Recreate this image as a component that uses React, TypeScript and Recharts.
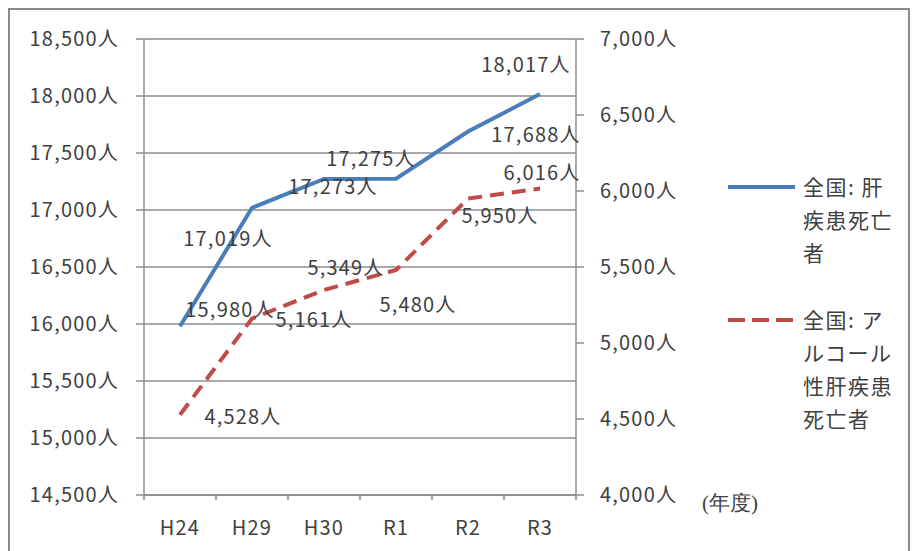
import { LineChart, Line, XAxis, YAxis, CartesianGrid, LabelList } from 'recharts';

const years = ['H24', 'H29', 'H30', 'R1', 'R2', 'R3'];
const liverDeaths = [15980, 17019, 17273, 17275, 17688, 18017];
const alcoholDeaths = [4528, 5161, 5349, 5480, 5950, 6016];
const leftTicks = [14500, 15000, 15500, 16000, 16500, 17000, 17500, 18000, 18500];
const rightTicks = [4000, 4500, 5000, 5500, 6000, 6500, 7000];

const BLUE = '#4A7EBB';
const RED = '#BE4B48';
const TEXT = '#404040';
const GRID = '#8c8c8c';
const FONT = '"Noto Sans CJK JP", "Noto Sans", sans-serif';
const FS = 20;
const LS = 1.2;

// label offsets from each point, px
const blueShift = [[50, -18], [-24, 30], [9, 7], [-25, -21], [68, 2], [-14, -31]];
const redShift = [[63, 1], [62, 0], [22, -23], [22, 33], [32, 16], [2, -17]];

const data = years.map((y, i) => ({ year: y, liver: liverDeaths[i], alcohol: alcoholDeaths[i] }));

const fmt = (v: number) => v.toLocaleString('en-US') + '人';
const HALF_BAND = 36;

const makeLabel = (shift: number[][]) => (props: any) => {
  const { x, y, index, value } = props;
  const [dx, dy] = shift[index] || [0, 0];
  return (
    <text x={x + dx} y={y + dy} textAnchor="middle" dominantBaseline="central"
      fontSize={FS} letterSpacing={LS} fill={TEXT} fontFamily={FONT}>
      {fmt(value)}
    </text>
  );
};

const XTick = (props: any) => {
  const { x, y, payload, index, visibleTicksCount } = props;
  return (
    <g>
      <line x1={x - HALF_BAND} x2={x - HALF_BAND} y1={y} y2={y + 5} stroke={GRID} strokeWidth={1.5} />
      {index === visibleTicksCount - 1 && (
        <line x1={x + HALF_BAND} x2={x + HALF_BAND} y1={y} y2={y + 5} stroke={GRID} strokeWidth={1.5} />
      )}
      <text x={x} y={y + 31} textAnchor="middle" dominantBaseline="central" fontSize={FS} letterSpacing={LS}
        fill={TEXT} fontFamily={FONT}>
        {payload.value}
      </text>
    </g>
  );
};

const legendText: React.CSSProperties = {
  position: 'absolute', left: 803, fontSize: 21, lineHeight: '33px', color: TEXT,
  fontFamily: FONT, letterSpacing: 1.5, whiteSpace: 'pre',
};

const tickStyle = { fontSize: FS, fill: TEXT, fontFamily: FONT, letterSpacing: LS };

export default function App() {
  return (
    <div style={{ position: 'relative', width: 912, height: 551, overflow: 'hidden', background: '#fff' }}>
      <style>{'body{margin:0}'}</style>
      <div style={{ position: 'absolute', left: 8, top: 8, width: 898, height: 560, border: '2px solid #8a8a8a' }} />
      <div style={{ position: 'absolute', left: 0, top: 0 }}>
        <LineChart width={912} height={551} data={data} margin={{ top: 39, right: 216, bottom: 0, left: 0 }}>
          <CartesianGrid vertical={false} stroke={GRID} strokeWidth={1.5} yAxisId="left" />
          <XAxis dataKey="year" scale="point" padding={{ left: HALF_BAND, right: HALF_BAND }} height={56}
            axisLine={{ stroke: GRID, strokeWidth: 1.5 }} tickLine={false} tickSize={0} tickMargin={0}
            tick={<XTick />} interval={0} />
          <YAxis yAxisId="left" width={144} domain={[14500, 18500]} ticks={leftTicks} tickFormatter={fmt}
            axisLine={{ stroke: GRID, strokeWidth: 1.5 }} tickLine={{ stroke: GRID, strokeWidth: 1.5 }}
            tickSize={8} tickMargin={17} interval={0} tick={tickStyle} />
          <YAxis yAxisId="right" orientation="right" width={120} domain={[4000, 7000]} ticks={rightTicks} tickFormatter={fmt}
            axisLine={{ stroke: GRID, strokeWidth: 1.5 }} tickLine={{ stroke: GRID, strokeWidth: 1.5 }}
            tickSize={8} tickMargin={16} interval={0} tick={{ ...tickStyle, textAnchor: 'start' }} />
          <Line yAxisId="left" dataKey="liver" stroke={BLUE} strokeWidth={4} dot={false} isAnimationActive={false}>
            <LabelList dataKey="liver" content={makeLabel(blueShift)} />
          </Line>
          <Line yAxisId="right" dataKey="alcohol" stroke={RED} strokeWidth={4} strokeDasharray="14 8" dot={false} isAnimationActive={false}>
            <LabelList dataKey="alcohol" content={makeLabel(redShift)} />
          </Line>
        </LineChart>
      </div>

      <svg style={{ position: 'absolute', left: 0, top: 0 }} width={912} height={551} pointerEvents="none">
        <line x1={728} x2={795} y1={187} y2={187} stroke={BLUE} strokeWidth={4} />
        <line x1={728} x2={795} y1={320} y2={320} stroke={RED} strokeWidth={4} strokeDasharray="17 7" />
      </svg>
      <div style={{ ...legendText, top: 170 }}>{'全国: 肝\n疾患死亡\n者'}</div>
      <div style={{ ...legendText, top: 303 }}>{'全国: ア\nルコール\n性肝疾患\n死亡者'}</div>
      <div style={{ position: 'absolute', left: 702, top: 489, fontSize: 21, color: TEXT, fontFamily: 'serif' }}>(年度)</div>
    </div>
  );
}
